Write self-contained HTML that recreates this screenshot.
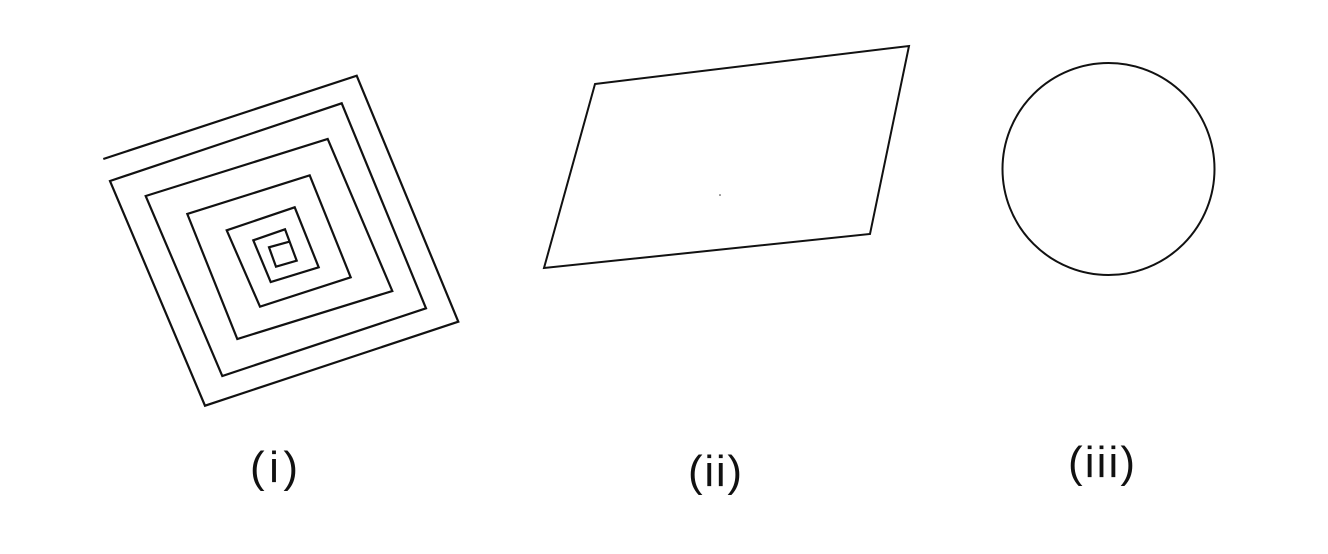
<!DOCTYPE html>
<html><head><style>html,body{margin:0;padding:0;background:#fff;}svg{display:block;}</style></head>
<body>
<svg width="1328" height="554" viewBox="0 0 1328 554" xmlns="http://www.w3.org/2000/svg">
<polyline fill="none" stroke="#111" stroke-width="2.2" stroke-linejoin="miter" points="103.3,159 356.7,75.7 458.3,321.7 205,405.7 110,181 341.7,103.3 426,308.3 222.3,376 145.7,196 327.7,139 392.3,291 237.3,339 187.3,214 309.7,175.3 350.7,277.3 260,306.7 226.7,230.3 294.7,207.3 318.7,267.3 270.7,282 253.3,240.3 285,229.3 296.7,260.7 276,266.7 269,247.3 289.3,241.7"/>
<polygon fill="none" stroke="#111" stroke-width="2" points="595,84 909,46 870,234 544,268"/>
<circle cx="720" cy="195" r="0.8" fill="#333"/>
<circle cx="1108.5" cy="169" r="106" fill="none" stroke="#111" stroke-width="2"/>
<g font-family="'Liberation Sans', sans-serif" font-size="44" font-weight="normal" fill="#111">
<text x="250" y="482" textLength="48" lengthAdjust="spacing">(i)</text>
<text x="688" y="486" textLength="54" lengthAdjust="spacing">(ii)</text>
<text x="1068" y="477" textLength="67" lengthAdjust="spacing">(iii)</text>
</g>
</svg>
</body></html>
